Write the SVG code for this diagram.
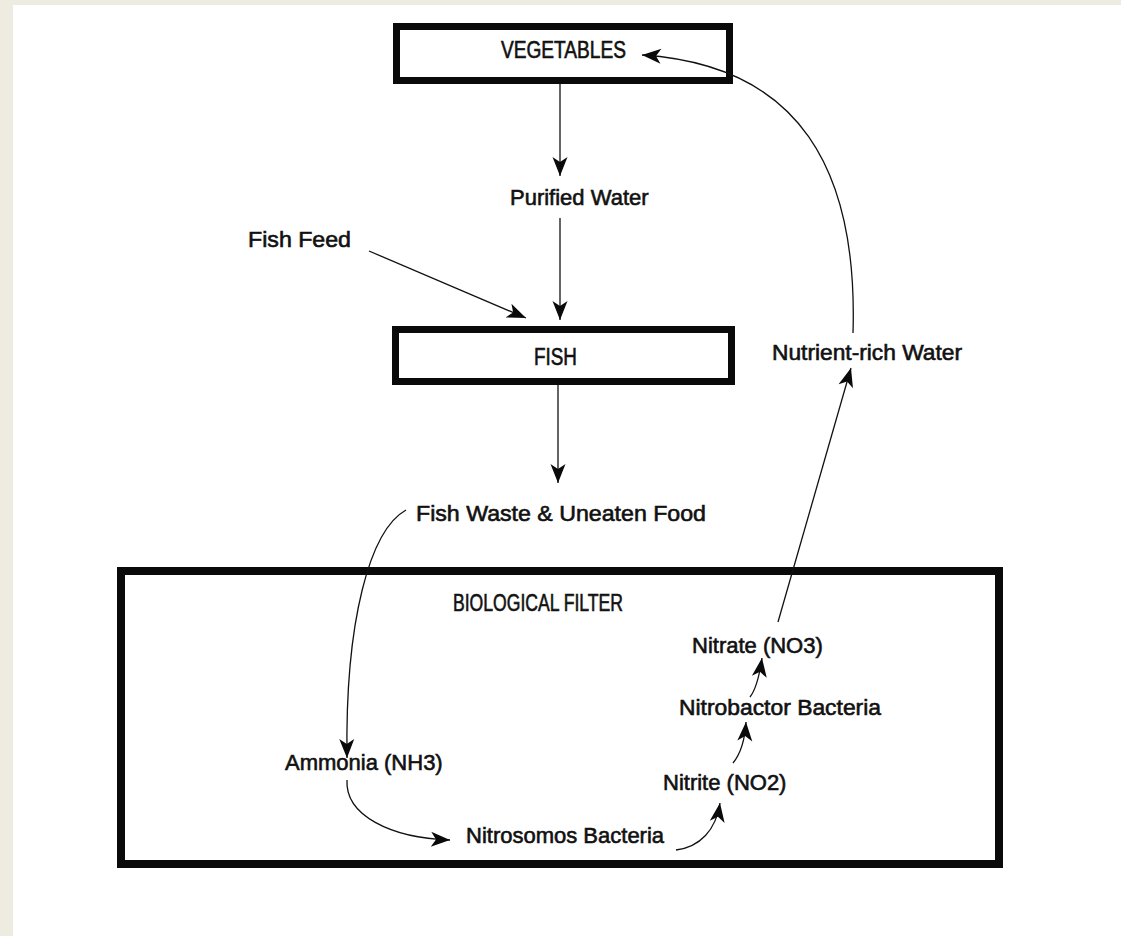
<svg xmlns="http://www.w3.org/2000/svg" width="1121" height="936" viewBox="0 0 1121 936">
<style>
.lbl{font-family:"Liberation Sans",Arial,sans-serif;font-size:22px;fill:#111;stroke:#111;stroke-width:0.6px;}
.cap{font-size:23px;}
.box{fill:none;stroke:#0a0a0a;}
.con{fill:none;stroke:#111;stroke-width:1.3;marker-end:url(#ah);}
</style>
<defs>
<marker id="ah" markerUnits="userSpaceOnUse" markerWidth="24" markerHeight="18" viewBox="-20 -9 22 18" refX="0" refY="0" orient="auto">
<path d="M0,0 L-19,-7.5 L-14,0 L-19,7.5 Z" fill="#0a0a0a"/>
</marker>
</defs>
<rect x="0" y="0" width="1121" height="936" fill="#eeebe0"/>
<rect x="13" y="5" width="1108" height="931" fill="#ffffff"/>
<g id="vegetables">
<rect class="box" x="396.5" y="26.5" width="333" height="54" stroke-width="7"/>
<text class="lbl cap" x="501" y="58" textLength="125" lengthAdjust="spacingAndGlyphs">VEGETABLES</text>
</g>
<g id="purified-water"><text class="lbl" x="510" y="205">Purified Water</text></g>
<g id="fish-feed"><text class="lbl" x="248" y="247" textLength="103" lengthAdjust="spacingAndGlyphs">Fish Feed</text></g>
<g id="fish">
<rect class="box" x="395.5" y="329.5" width="336" height="52" stroke-width="7"/>
<text class="lbl cap" x="534" y="365" textLength="43" lengthAdjust="spacingAndGlyphs">FISH</text>
</g>
<g id="nutrient-water"><text class="lbl" x="772" y="360" textLength="190" lengthAdjust="spacingAndGlyphs">Nutrient-rich Water</text></g>
<g id="fish-waste"><text class="lbl" x="416" y="521" textLength="290" lengthAdjust="spacingAndGlyphs">Fish Waste &amp; Uneaten Food</text></g>
<g id="biological-filter">
<rect class="box" x="121" y="571" width="878" height="293" stroke-width="8"/>
<text class="lbl cap" x="453" y="611" textLength="170" lengthAdjust="spacingAndGlyphs">BIOLOGICAL FILTER</text>
</g>
<g id="ammonia"><text class="lbl" x="285" y="770">Ammonia (NH3)</text></g>
<g id="nitrosomos"><text class="lbl" x="466" y="843">Nitrosomos Bacteria</text></g>
<g id="nitrite"><text class="lbl" x="663" y="790">Nitrite (NO2)</text></g>
<g id="nitrobactor"><text class="lbl" x="679" y="715" textLength="202" lengthAdjust="spacingAndGlyphs">Nitrobactor Bacteria</text></g>
<g id="nitrate"><text class="lbl" x="692" y="653">Nitrate (NO3)</text></g>
<g id="connectors">
<path class="con" d="M560,84 L560,176"/>
<path class="con" d="M560,218 L560,320"/>
<path class="con" d="M369,251 L526,318"/>
<path class="con" d="M558,385 L558,483"/>
<path class="con" d="M406,510 C370,530 345,620 347,758"/>
<path class="con" d="M347,780 C345,815 390,838 450,840"/>
<path class="con" d="M676,850 C700,847 716,830 720,803"/>
<path class="con" d="M733,763 C742,752 745,738 746,722"/>
<path class="con" d="M750,697 C757,688 760,672 762,658"/>
<path class="con" d="M778,622 L851,368"/>
<path class="con" d="M853,333 C858,170 800,65 642,55"/>
</g>
</svg>
